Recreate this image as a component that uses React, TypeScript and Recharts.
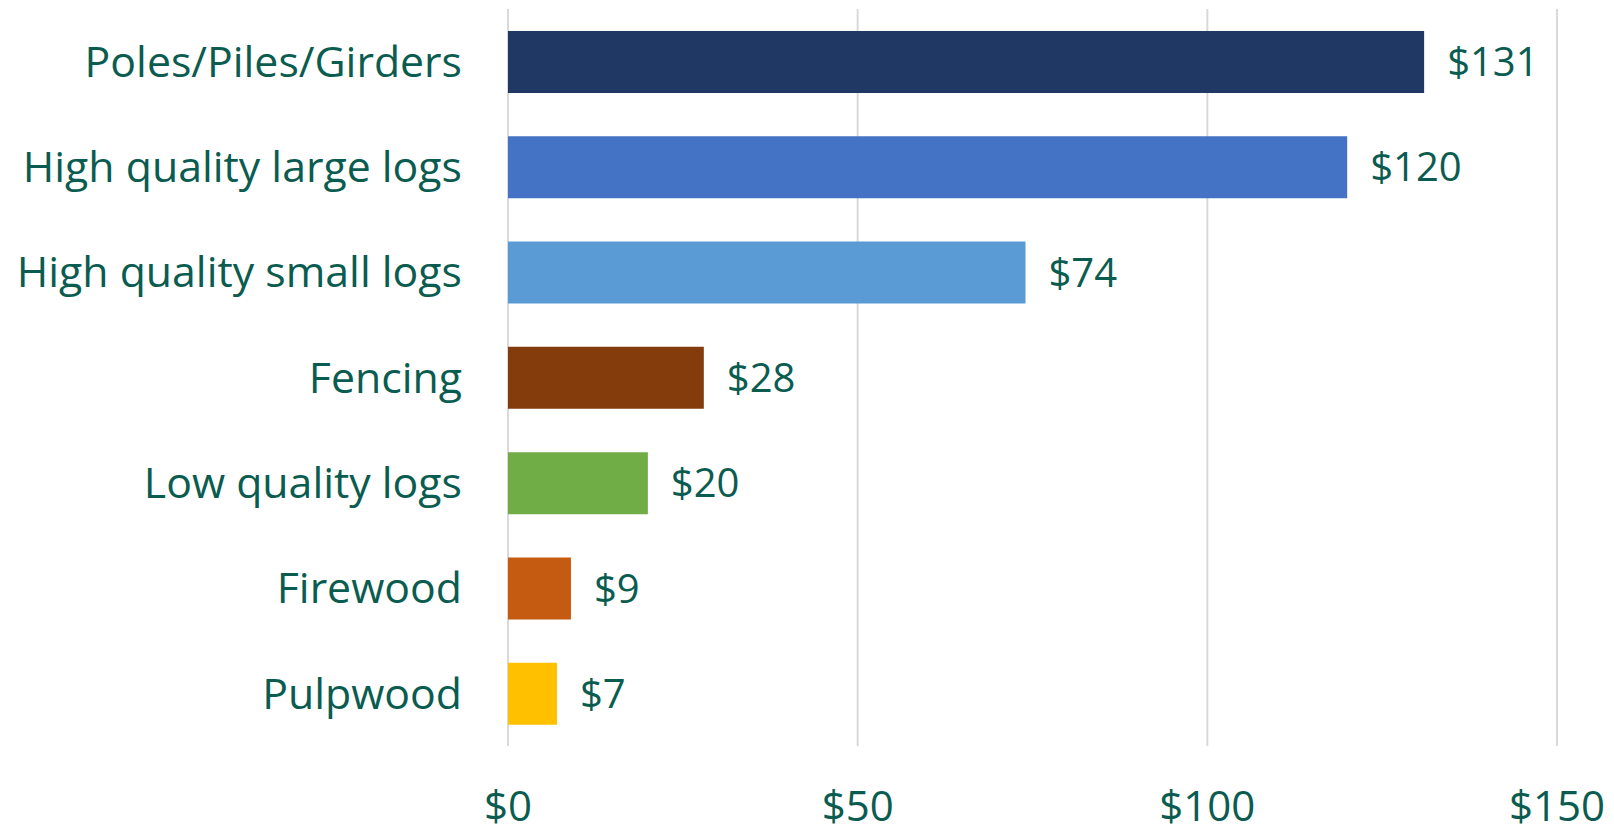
import { Bar, BarChart, CartesianGrid, Cell, LabelList, XAxis, YAxis } from "recharts";

const categories = [
  "Poles/Piles/Girders",
  "High quality large logs",
  "High quality small logs",
  "Fencing",
  "Low quality logs",
  "Firewood",
  "Pulpwood",
];
const values = [131, 120, 74, 28, 20, 9, 7];
const barColors = ["#203864", "#4472C4", "#5B9BD5", "#843C0C", "#70AD47", "#C55A11", "#FFC000"];
const xTicks = [0, 50, 100, 150];

const data = categories.map((name, i) => ({ name, value: values[i] }));

const textColor = "#0b5c50";
const font = "'Open Sans', sans-serif";

export default function App() {
  return (
    <div style={{ position: "fixed", left: 0, top: 0, width: 1614, height: 828, background: "#fff" }}>
      <BarChart
        width={1614}
        height={828}
        data={data}
        layout="vertical"
        margin={{ top: 9, right: 57, bottom: 0, left: 0 }}
        barSize={62}
      >
        <CartesianGrid horizontal={false} stroke="#d9d9d9" strokeWidth={2} />
        <XAxis
          type="number"
          domain={[0, 150]}
          ticks={xTicks}
          tickFormatter={(v) => `$${v}`}
          axisLine={false}
          tickLine={false}
          tickSize={0}
          tickMargin={45}
          height={82}
          interval={0}
          tick={{ fill: textColor, fontSize: 42, fontFamily: font }}
        />
        <YAxis
          type="category"
          dataKey="name"
          width={508}
          axisLine={false}
          tickLine={false}
          tickSize={0}
          tickMargin={46}
          interval={0}
          tick={{ fill: textColor, fontSize: 42.8, fontFamily: font }}
        />
        <Bar dataKey="value" isAnimationActive={false}>
          {data.map((d, i) => (
            <Cell key={d.name} fill={barColors[i]} />
          ))}
          <LabelList
            dataKey="value"
            position="right"
            offset={23}
            formatter={(v: number) => `$${v}`}
            style={{ fill: textColor, fontSize: 40, fontFamily: font }}
          />
        </Bar>
      </BarChart>
    </div>
  );
}
